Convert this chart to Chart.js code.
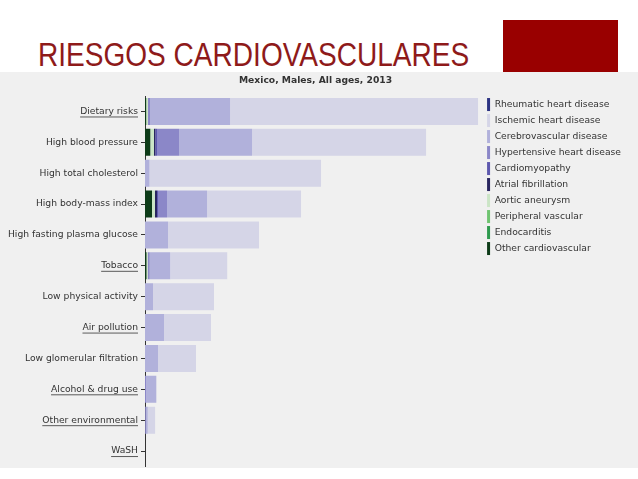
<!DOCTYPE html>
<html>
<head>
<meta charset="utf-8">
<script src="https://cdn.jsdelivr.net/npm/chart.js@4/dist/chart.umd.min.js"></script>
<style>
body { margin: 0; background: #fff; width: 638px; height: 479px; overflow: hidden; position: relative; }
#title { position: absolute; left: 38px; top: 37px; font-family: "Liberation Sans", Arial, sans-serif; font-size: 34px; line-height: 35px; color: #8e1a1a; transform: scaleX(0.825); transform-origin: 0 0; white-space: nowrap; }
#block { position: absolute; left: 503px; top: 20px; width: 115px; height: 52px; background: #990000; }
#panel { position: absolute; left: 0; top: 72px; width: 638px; height: 396px; overflow: hidden; background: #f0f0f0; }
#chart { display: block; }
</style>
</head>
<body>
<div id="title">RIESGOS CARDIOVASCULARES</div>
<div id="block"></div>
<div id="panel"><canvas id="chart" width="638" height="403"></canvas></div>
<script>
// risk factors, top to bottom
const categories = ['Dietary risks', 'High blood pressure', 'High total cholesterol', 'High body-mass index',
    'High fasting plasma glucose', 'Tobacco', 'Low physical activity', 'Air pollution',
    'Low glomerular filtration', 'Alcohol & drug use', 'Other environmental', 'WaSH'];
// aggregate risks are underlined in the original
const underlined = ['Dietary risks', 'Tobacco', 'Air pollution', 'Alcohol & drug use', 'Other environmental', 'WaSH'];

// attributable burden per cause, stacked left to right
const otherCardio   = [1.2, 5.3, 0, 7, 0, 1.5, 0, 0, 0, 0, 0, 0];
const endocarditis  = [0, 0, 0, 0, 0, 0, 0, 0, 0, 0, 0, 0];
const peripheral    = [0, 0, 0, 0, 0, 0, 0, 0, 0, 0, 0, 0];
const aortic        = [1.8, 3.7, 0, 3, 0, 1.2, 0, 0, 0, 0, 0, 0];
const atrialFib     = [0, 1.3, 0, 2, 0, 0, 0, 0, 0, 0, 0, 0];
const cardiomyopathy = [0, 1.7, 0, 1, 0, 0, 0, 0, 0, 0, 0, 0];
const hypertensive  = [2, 22, 0, 9, 0, 2, 0, 0, 0, 1.3, 0.8, 0];
const cerebro       = [80, 73, 4.5, 40, 23, 20.5, 8, 19, 13, 10, 2, 0];
const ischemic      = [248, 174, 171.5, 94, 91, 57, 61, 47, 38, 0, 7.3, 0];
const rheumatic     = [0, 0, 0, 0, 0, 0, 0, 0, 0, 0, 0, 0];

const series = [
    { label: 'Other cardiovascular', data: otherCardio, color: '#0d3b18' },
    { label: 'Endocarditis', data: endocarditis, color: '#2e9a4e' },
    { label: 'Peripheral vascular', data: peripheral, color: '#6fc470' },
    { label: 'Aortic aneurysm', data: aortic, color: '#cbe5c6' },
    { label: 'Atrial fibrillation', data: atrialFib, color: '#29265f' },
    { label: 'Cardiomyopathy', data: cardiomyopathy, color: '#5d58ae' },
    { label: 'Hypertensive heart disease', data: hypertensive, color: '#8b87c8' },
    { label: 'Cerebrovascular disease', data: cerebro, color: '#b1b1db' },
    { label: 'Ischemic heart disease', data: ischemic, color: '#d5d5e7' },
    { label: 'Rheumatic heart disease', data: rheumatic, color: '#2c3382' }
];

const FONT_SIZE = 9.2;
Chart.defaults.font.family = '"DejaVu Sans", sans-serif';
Chart.defaults.font.size = FONT_SIZE;
Chart.defaults.color = '#333';

// draw underlines under the aggregate risk labels
const underlinePlugin = {
    id: 'underline',
    afterDraw(chart) {
        const s = chart.scales.y;
        const ctx = chart.ctx;
        ctx.save();
        ctx.font = FONT_SIZE + 'px "DejaVu Sans"';
        ctx.strokeStyle = '#333';
        ctx.lineWidth = 0.8;
        categories.forEach((c, i) => {
            if (!underlined.includes(c)) return;
            const w = ctx.measureText(c).width;
            const y = s.getPixelForTick(i) + 5.5;
            const xr = s.right - 4 - 3;
            ctx.beginPath();
            ctx.moveTo(xr - w, y);
            ctx.lineTo(xr, y);
            ctx.stroke();
        });
        ctx.restore();
    }
};

new Chart(document.getElementById('chart'), {
    type: 'bar',
    data: {
        labels: categories,
        datasets: series.map(s => ({
            label: s.label,
            data: s.data,
            backgroundColor: s.color,
            borderWidth: 0,
            barPercentage: 1,
            categoryPercentage: 0.875
        }))
    },
    options: {
        indexAxis: 'y',
        responsive: false,
        animation: false,
        layout: { padding: { right: 7 } },
        scales: {
            x: { stacked: true, display: false, min: 0, max: 339 },
            y: {
                stacked: true,
                afterFit: function(scale) { scale.width = 145; },
                grid: { drawOnChartArea: false, drawTicks: true, tickLength: 4, color: '#333', offset: false },
                border: { display: true, color: '#333' },
                ticks: { padding: 3, color: '#333', autoSkip: false }
            }
        },
        plugins: {
            title: {
                display: true,
                text: 'Mexico, Males, All ages, 2013',
                color: '#333',
                font: { size: FONT_SIZE, weight: 'bold' },
                padding: { top: 3, bottom: 10 }
            },
            legend: {
                position: 'right',
                align: 'start',
                reverse: true,
                title: { display: true, text: ' ', padding: { top: 6, bottom: 6 }, font: { size: FONT_SIZE } },
                labels: { boxWidth: 3, boxHeight: 13, padding: 3, color: '#333', font: { size: FONT_SIZE } }
            },
            tooltip: { enabled: false }
        }
    },
    plugins: [underlinePlugin]
});
</script>
</body>
</html>
